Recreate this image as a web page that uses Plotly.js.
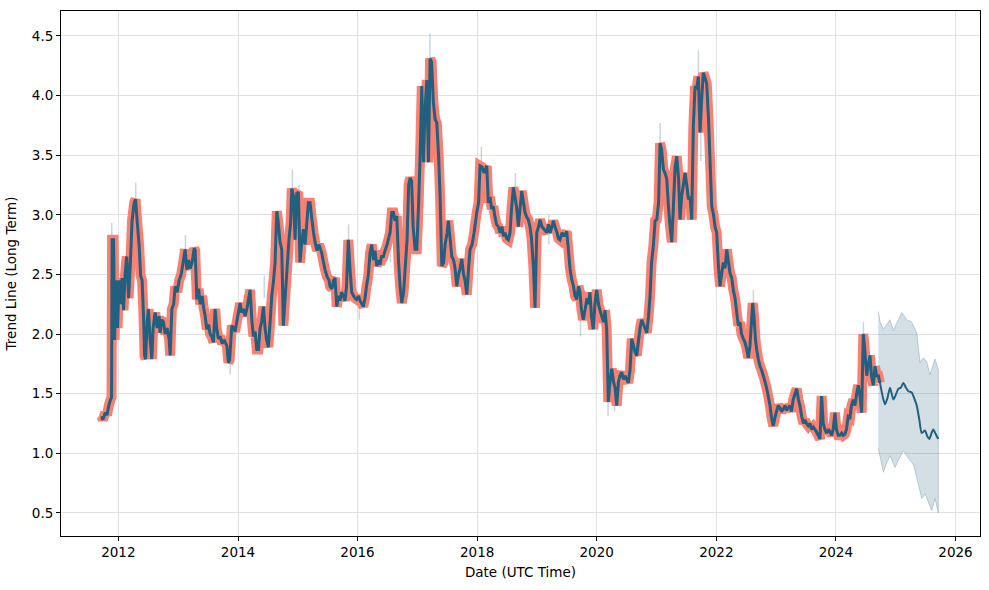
<!DOCTYPE html>
<html>
<head>
<meta charset="utf-8">
<script src="https://cdn.plot.ly/plotly-3.0.1.min.js"></script>
<style>html,body{margin:0;padding:0;background:#fff;}#chart{width:989px;height:590px;}</style>
</head>
<body>
<div id="chart"></div>
<script>
// Historical trend (decimal year, value)
const histYears = [2011.72,2011.74,2011.78,2011.81,2011.84,2011.87,2011.886,2011.895,2011.92,2011.937,2011.96,2011.987,2012.012,2012.037,2012.062,2012.087,2012.112,2012.14,2012.171,2012.196,2012.229,2012.263,2012.288,2012.313,2012.346,2012.371,2012.396,2012.418,2012.438,2012.455,2012.48,2012.502,2012.53,2012.559,2012.58,2012.614,2012.647,2012.681,2012.697,2012.722,2012.753,2012.781,2012.814,2012.848,2012.865,2012.893,2012.923,2012.948,2012.982,2013.015,2013.049,2013.082,2013.115,2013.144,2013.174,2013.199,2013.232,2013.266,2013.283,2013.311,2013.341,2013.366,2013.4,2013.421,2013.45,2013.478,2013.508,2013.533,2013.567,2013.589,2013.617,2013.642,2013.672,2013.701,2013.734,2013.768,2013.813,2013.839,2013.859,2013.896,2013.926,2013.951,2013.985,2014.035,2014.06,2014.09,2014.119,2014.152,2014.202,2014.231,2014.257,2014.286,2014.314,2014.341,2014.37,2014.395,2014.425,2014.453,2014.478,2014.508,2014.537,2014.565,2014.595,2014.62,2014.649,2014.671,2014.704,2014.732,2014.759,2014.788,2014.821,2014.854,2014.88,2014.9,2014.93,2014.955,2014.983,2015.01,2015.038,2015.063,2015.094,2015.122,2015.155,2015.177,2015.206,2015.239,2015.264,2015.289,2015.323,2015.356,2015.401,2015.431,2015.456,2015.49,2015.523,2015.54,2015.573,2015.599,2015.624,2015.652,2015.682,2015.707,2015.732,2015.762,2015.791,2015.816,2015.846,2015.874,2015.903,2015.933,2015.958,2015.987,2016.017,2016.042,2016.075,2016.097,2016.125,2016.15,2016.18,2016.209,2016.237,2016.267,2016.292,2016.321,2016.351,2016.376,2016.401,2016.431,2016.46,2016.488,2016.518,2016.543,2016.572,2016.599,2016.627,2016.655,2016.686,2016.711,2016.739,2016.769,2016.794,2016.828,2016.853,2016.878,2016.903,2016.928,2016.961,2016.99,2017.02,2017.045,2017.073,2017.1,2017.129,2017.157,2017.184,2017.212,2017.237,2017.267,2017.296,2017.324,2017.354,2017.379,2017.408,2017.438,2017.463,2017.497,2017.518,2017.547,2017.575,2017.605,2017.63,2017.659,2017.689,2017.714,2017.742,2017.772,2017.797,2017.826,2017.856,2017.881,2017.915,2017.948,2017.993,2018.023,2018.048,2018.082,2018.115,2018.16,2018.187,2018.216,2018.241,2018.271,2018.299,2018.324,2018.354,2018.383,2018.416,2018.441,2018.466,2018.495,2018.522,2018.55,2018.575,2018.605,2018.634,2018.662,2018.689,2018.717,2018.746,2018.776,2018.801,2018.829,2018.856,2018.884,2018.91,2018.94,2018.968,2018.997,2019.027,2019.052,2019.085,2019.119,2019.164,2019.194,2019.219,2019.252,2019.274,2019.302,2019.336,2019.361,2019.386,2019.42,2019.453,2019.498,2019.528,2019.553,2019.582,2019.612,2019.637,2019.666,2019.696,2019.721,2019.746,2019.776,2019.804,2019.838,2019.863,2019.888,2019.913,2019.943,2019.971,2020.0,2020.03,2020.055,2020.084,2020.114,2020.139,2020.167,2020.194,2020.222,2020.251,2020.281,2020.306,2020.334,2020.364,2020.389,2020.418,2020.448,2020.473,2020.501,2020.528,2020.557,2020.585,2020.615,2020.64,2020.669,2020.699,2020.724,2020.752,2020.782,2020.807,2020.836,2020.866,2020.891,2020.916,2020.946,2020.975,2021.003,2021.033,2021.058,2021.083,2021.114,2021.142,2021.17,2021.201,2021.226,2021.254,2021.284,2021.309,2021.338,2021.368,2021.393,2021.418,2021.448,2021.476,2021.505,2021.532,2021.56,2021.588,2021.615,2021.644,2021.669,2021.699,2021.727,2021.752,2021.782,2021.811,2021.839,2021.869,2021.894,2021.923,2021.953,2021.978,2022.006,2022.037,2022.062,2022.087,2022.117,2022.145,2022.174,2022.204,2022.229,2022.257,2022.284,2022.313,2022.341,2022.368,2022.396,2022.421,2022.451,2022.48,2022.505,2022.535,2022.563,2022.588,2022.608,2022.63,2022.655,2022.675,2022.702,2022.731,2022.756,2022.786,2022.814,2022.839,2022.869,2022.898,2022.923,2022.953,2022.981,2023.006,2023.037,2023.065,2023.09,2023.12,2023.149,2023.174,2023.204,2023.232,2023.257,2023.287,2023.316,2023.344,2023.374,2023.399,2023.428,2023.458,2023.483,2023.508,2023.538,2023.567,2023.592,2023.622,2023.65,2023.675,2023.705,2023.734,2023.762,2023.789,2023.817,2023.846,2023.876,2023.901,2023.929,2023.956,2023.985,2024.01,2024.04,2024.068,2024.097,2024.124,2024.152,2024.177,2024.207,2024.236,2024.261,2024.291,2024.319,2024.348,2024.374,2024.403,2024.431,2024.458,2024.478,2024.515,2024.545,2024.57,2024.595,2024.625,2024.654,2024.679,2024.709,2024.737];
const histValues = [1.31,1.28,1.34,1.32,1.40,1.45,1.47,2.79,2.79,1.95,2.45,2.05,2.45,2.25,2.47,2.20,2.50,2.65,2.30,2.55,2.95,3.10,3.13,2.95,2.75,2.49,2.45,2.18,1.82,1.79,2.10,2.21,1.95,1.79,2.05,2.18,2.05,2.15,2.01,2.12,2.10,2.00,2.05,1.95,1.82,2.21,2.25,2.40,2.35,2.45,2.50,2.60,2.71,2.54,2.62,2.55,2.60,2.72,2.70,2.29,2.38,2.25,2.32,2.23,2.15,2.04,2.08,2.00,1.97,1.93,2.21,2.05,1.96,1.98,1.92,1.95,1.90,1.76,1.78,2.07,2.05,2.02,2.12,2.26,2.18,2.21,2.15,2.22,2.37,2.12,1.98,2.02,1.87,1.87,2.05,2.10,2.23,2.05,1.95,1.89,2.10,2.32,2.45,2.60,3.03,2.95,2.77,2.71,2.07,2.30,2.55,2.80,2.93,3.22,3.15,2.79,3.18,3.19,2.60,2.75,2.88,2.75,2.95,3.10,3.10,2.95,2.85,2.77,2.70,2.75,2.68,2.60,2.54,2.48,2.45,2.40,2.38,2.45,2.47,2.23,2.32,2.28,2.35,2.32,2.28,2.40,2.79,2.55,2.35,2.32,2.30,2.29,2.32,2.28,2.25,2.23,2.30,2.40,2.49,2.68,2.75,2.62,2.70,2.57,2.62,2.58,2.65,2.65,2.70,2.74,2.80,2.85,3.02,3.02,2.95,2.99,2.60,2.40,2.26,2.35,2.54,2.80,3.25,3.31,3.28,2.90,2.71,2.71,3.10,3.50,4.08,3.44,3.90,4.13,3.44,4.31,4.28,3.94,3.80,3.77,3.50,3.16,2.57,2.60,2.75,2.85,2.95,2.80,2.65,2.62,2.55,2.40,2.50,2.55,2.63,2.50,2.45,2.33,2.55,2.71,2.75,2.85,3.02,3.10,3.41,3.40,3.35,3.41,3.10,3.15,3.05,3.07,2.98,2.92,2.90,2.85,2.90,2.82,2.85,2.80,2.79,2.85,3.05,3.23,3.15,3.05,2.90,3.05,3.20,3.10,3.02,2.98,2.96,2.90,2.80,2.57,2.22,2.85,2.90,2.96,2.90,2.88,2.85,2.92,2.85,2.90,2.95,2.90,2.85,2.80,2.79,2.85,2.82,2.86,2.70,2.55,2.46,2.40,2.32,2.29,2.40,2.35,2.20,2.12,2.20,2.30,2.25,2.35,2.15,2.04,2.25,2.37,2.25,2.20,2.15,2.10,2.20,2.04,1.43,1.60,1.71,1.60,1.55,1.40,1.60,1.65,1.68,1.62,1.65,1.62,1.59,1.70,1.96,1.90,1.85,1.82,1.95,2.05,2.12,2.08,2.05,2.01,2.15,2.32,2.60,2.74,2.95,2.96,3.10,3.60,3.55,3.38,3.35,3.30,3.05,2.90,2.77,3.10,3.40,3.49,3.30,2.96,3.15,3.25,3.35,3.25,3.13,3.15,2.96,3.74,4.08,4.05,4.16,3.69,3.95,4.19,4.15,4.10,3.80,3.46,3.07,3.00,2.90,2.85,2.55,2.40,2.50,2.60,2.55,2.71,2.60,2.51,2.47,2.37,2.30,2.18,2.07,2.10,2.00,1.96,1.93,1.88,1.80,1.90,2.10,2.26,2.15,1.95,1.87,1.79,1.73,1.70,1.65,1.60,1.55,1.48,1.40,1.30,1.23,1.30,1.35,1.40,1.38,1.35,1.37,1.40,1.36,1.38,1.40,1.35,1.45,1.50,1.54,1.45,1.40,1.31,1.25,1.28,1.25,1.23,1.25,1.20,1.22,1.20,1.18,1.15,1.12,1.48,1.25,1.20,1.17,1.20,1.18,1.15,1.20,1.34,1.20,1.15,1.15,1.17,1.15,1.16,1.20,1.31,1.30,1.40,1.45,1.40,1.50,1.57,1.48,1.34,2.00,1.90,1.65,1.75,1.82,1.65,1.57,1.73,1.65,1.65,1.59];

// Forecast trend
const fcYears = [2024.737,2024.78,2024.821,2024.86,2024.905,2024.96,2025.0,2025.043,2025.085,2025.127,2025.17,2025.211,2025.267,2025.31,2025.351,2025.395,2025.435,2025.49,2025.53,2025.562,2025.6,2025.628,2025.67,2025.712];
const fcValues = [1.59,1.48,1.41,1.46,1.55,1.45,1.49,1.54,1.55,1.59,1.55,1.52,1.51,1.46,1.40,1.28,1.17,1.19,1.14,1.12,1.17,1.20,1.16,1.12];

// Forecast uncertainty band
const bandUpperYears = [2024.709,2024.74,2024.793,2024.85,2024.905,2024.96,2025.03,2025.10,2025.184,2025.267,2025.351,2025.407,2025.46,2025.518,2025.573,2025.62,2025.657,2025.712];
const bandUpperValues = [2.19,2.10,2.04,2.08,2.12,2.03,2.10,2.18,2.12,2.10,2.01,1.76,1.80,1.77,1.66,1.74,1.79,1.70];
const bandLowerYears = [2024.709,2024.75,2024.793,2024.85,2024.905,2024.988,2025.06,2025.127,2025.239,2025.30,2025.351,2025.435,2025.49,2025.545,2025.602,2025.657,2025.712];
const bandLowerValues = [1.04,0.95,0.84,0.92,0.98,0.88,0.96,1.02,0.94,0.90,0.78,0.62,0.66,0.59,0.52,0.62,0.50];

// Raw data spikes (year, low, high)
const spikeYears = [2011.89,2012.29,2012.40,2013.12,2013.22,2013.87,2014.44,2014.91,2015.02,2015.85,2016.03,2016.55,2017.21,2017.30,2018.07,2018.64,2019.20,2019.73,2020.19,2020.30,2021.06,2021.45,2021.70,2021.74,2022.62,2024.46];
const spikeLow  = [2.60,3.00,2.30,2.60,2.45,1.66,2.30,3.10,3.00,2.70,2.12,2.60,4.20,3.60,3.30,3.10,2.75,1.98,1.31,1.35,3.55,3.05,4.10,3.45,2.20,1.90];
const spikeHigh = [2.93,3.27,2.60,2.83,2.65,1.80,2.49,3.38,3.25,2.92,2.28,2.80,4.52,3.90,3.57,3.35,3.00,2.12,1.45,1.55,3.77,3.30,4.38,3.70,2.37,2.10];

function toDate(y) {
  const yr = Math.floor(y);
  const f = y - yr;
  const a = Date.UTC(yr, 0, 1), b = Date.UTC(yr + 1, 0, 1);
  return new Date(a + f * (b - a)).toISOString().slice(0, 19).replace('T', ' ');
}

const hx = histYears.map(toDate);
const fx = fcYears.map(toDate);
const bandX = bandUpperYears.map(toDate).concat(bandLowerYears.slice().reverse().map(toDate));
const bandY = bandUpperValues.concat(bandLowerValues.slice().reverse());

const sx = [], sy = [];
spikeYears.forEach((t, i) => { const d = toDate(t); sx.push(d, d, null); sy.push(spikeLow[i], spikeHigh[i], null); });

const dark = '#21607f';
const traces = [
  { x: bandX, y: bandY, type: 'scatter', mode: 'lines', fill: 'toself',
    fillcolor: 'rgba(36,96,127,0.2)', line: { color: 'rgba(36,96,127,0.25)', width: 1 }, hoverinfo: 'skip' },
  { x: sx, y: sy, type: 'scatter', mode: 'lines', line: { color: 'rgba(36,96,127,0.25)', width: 1.5 }, connectgaps: false },
  { x: hx, y: histValues, type: 'scatter', mode: 'lines', line: { color: '#fa8072', width: 10, simplify: false } },
  { x: hx, y: histValues, type: 'scatter', mode: 'lines', line: { color: dark, width: 3, simplify: false } },
  { x: fx, y: fcValues, type: 'scatter', mode: 'lines', line: { color: dark, width: 2, shape: 'spline', smoothing: 0.6 } }
];

const font = { family: 'DejaVu Sans, sans-serif', size: 13.5, color: '#000' };
const layout = {
  width: 989, height: 590,
  margin: { l: 61, r: 9, t: 11, b: 54 },
  paper_bgcolor: '#fff', plot_bgcolor: '#fff',
  showlegend: false,
  font: font,
  xaxis: {
    type: 'date',
    range: [toDate(2011.04), toDate(2026.41)],
    tick0: '2012-01-01', dtick: 'M24', tickformat: '%Y',
    ticks: 'outside', ticklen: 4, tickcolor: '#000', tickwidth: 1,
    showline: true, mirror: true, linecolor: '#000', linewidth: 1,
    showgrid: true, gridcolor: '#e2e2e2', gridwidth: 1, zeroline: false,
    title: { text: 'Date (UTC Time)', font: font, standoff: 8 },
    tickfont: font
  },
  yaxis: {
    range: [0.306, 4.709],
    tick0: 0.5, dtick: 0.5, tickformat: '.1f',
    ticks: 'outside', ticklen: 4, tickcolor: '#000', tickwidth: 1,
    showline: true, mirror: true, linecolor: '#000', linewidth: 1,
    showgrid: true, gridcolor: '#e2e2e2', gridwidth: 1, zeroline: false,
    title: { text: 'Trend Line (Long Term)', font: font, standoff: 12 },
    tickfont: font
  }
};

Plotly.newPlot('chart', traces, layout, { displayModeBar: false, staticPlot: true });
</script>
</body>
</html>
